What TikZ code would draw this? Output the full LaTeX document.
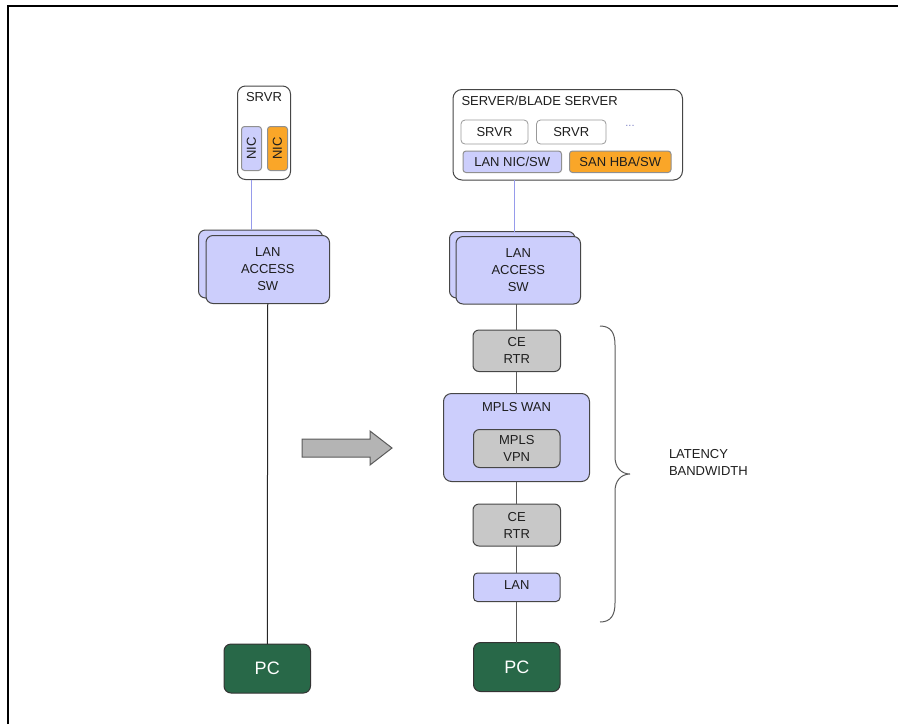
\documentclass[tikz,border=0pt]{standalone}
\usepackage{fontspec}
\setmainfont{Liberation Sans}
\definecolor{blueF}{RGB}{204,206,252}
\definecolor{orangeF}{RGB}{250,166,40}
\definecolor{grayF}{RGB}{200,200,200}
\definecolor{pcF}{RGB}{40,104,72}
\definecolor{bordC}{RGB}{70,70,70}
\definecolor{lineC}{RGB}{90,90,90}
\definecolor{blueL}{RGB}{150,155,235}
\definecolor{txtC}{RGB}{30,30,30}
\tikzset{
  basebox/.style={draw=bordC, line width=1pt, rounded corners=6pt, inner sep=0pt, outer sep=0pt,
    align=center, text=txtC, font=\fontsize{13}{17}\selectfont},
  bluebox/.style={basebox, fill=blueF},
  orangebox/.style={basebox, fill=orangeF},
  graybox/.style={basebox, fill=grayF},
  whitebox/.style={basebox, fill=white},
  pcbox/.style={basebox, fill=pcF, draw=black!80, text=white, font=\fontsize{18}{20}\selectfont},
  lbl/.style={inner sep=0pt, outer sep=0pt, text=txtC, font=\fontsize{13}{17}\selectfont},
  graylink/.style={draw=lineC, line width=1pt},
  bluelink/.style={draw=blueL, line width=1pt},
  blacklink/.style={draw=black!85, line width=1pt},
}
\begin{document}
\begin{tikzpicture}[x=1pt,y=-1pt]
\useasboundingbox (0,0) rectangle (898,724);
\draw[line width=1.6pt, black] (8,724) -- (8,6) -- (898,6);

% ---------- left column ----------
\node[whitebox, rounded corners=8pt, minimum width=53, minimum height=93.5] (srvrL) at (264,132.75) {};
\node[lbl] (srvrLt) at (264,97) {SRVR};
\node[bluebox, rounded corners=3pt, draw=bordC!60, minimum width=20, minimum height=44] (nicB) at (251.5,148.5) {};
\node[lbl, rotate=90] (nicBt) at (nicB.center) {NIC};
\node[orangebox, rounded corners=3pt, draw=bordC!60, minimum width=20, minimum height=44] (nicO) at (277.5,148.5) {};
\node[lbl, rotate=90] (nicOt) at (nicO.center) {NIC};

\node[bluebox, rounded corners=7pt, minimum width=124, minimum height=68] (lanLb) at (260.5,264) {};
\node[bluebox, rounded corners=7pt, minimum width=123.5, minimum height=68] (lanLf) at (267.75,269.5) {LAN\\ACCESS\\SW};
\node[pcbox, rounded corners=7pt, minimum width=86.5, minimum height=49] (pcL) at (267.25,668.5) {PC};

\draw[bluelink] ([xshift=-13pt]srvrL.south) -- ([xshift=-13pt]srvrL.south |- lanLb.north);
\draw[blacklink] (lanLf.south) -- (pcL.north);

% ---------- arrow ----------
\filldraw[fill=grayF!90!black, draw=lineC, line width=1pt]
  (302,439) -- (370,439) -- (370,431) -- (392,448) -- (370,465) -- (370,457) -- (302,457) -- cycle;

% ---------- right column ----------
\node[whitebox, rounded corners=9pt, minimum width=229.5, minimum height=90.5] (blade) at (567.75,134.75) {};
\node[lbl, anchor=west] (bladet) at (461.5,100.5) {SERVER/BLADE SERVER};
\node[whitebox, draw=bordC!55, line width=0.8pt, rounded corners=4pt, minimum width=67, minimum height=24] (srv1) at (494.5,132) {SRVR};
\node[whitebox, draw=bordC!55, line width=0.8pt, rounded corners=4pt, minimum width=69.5, minimum height=24] (srv2) at (571.25,132) {SRVR};
\node[lbl, text=blueL!85!black, font=\fontsize{11}{11}\selectfont] (dots) at (630,126) {...};
\node[bluebox, draw=bordC!60, rounded corners=3pt, minimum width=98.5, minimum height=21.5] (lannic) at (512.25,161.75) {LAN NIC/SW};
\node[orangebox, draw=bordC!60, rounded corners=3pt, minimum width=101.5, minimum height=21.5] (sanhba) at (620.25,161.75) {SAN HBA/SW};

\node[bluebox, rounded corners=7pt, minimum width=125.5, minimum height=66.5] (lanRb) at (512.25,264.75) {};
\node[bluebox, rounded corners=7pt, minimum width=124.5, minimum height=67.5] (lanRf) at (518.25,270.25) {LAN\\ACCESS\\SW};

\node[graybox, minimum width=87.5, minimum height=41.5] (ce1) at (516.75,350.75) {CE\\RTR};
\node[bluebox, rounded corners=8pt, minimum width=146, minimum height=88] (wan) at (516.5,437.5) {};
\node[lbl] (want) at (516.5,407.5) {MPLS WAN};
\node[graybox, minimum width=86.5, minimum height=38] (vpn) at (516.75,448.5) {MPLS\\VPN};
\node[graybox, minimum width=87.5, minimum height=42] (ce2) at (516.75,525) {CE\\RTR};
\node[bluebox, rounded corners=4pt, minimum width=86.5, minimum height=28.5] (lan) at (516.75,587.25) {\raisebox{4pt}{LAN}};
\node[pcbox, rounded corners=7pt, minimum width=86.5, minimum height=49] (pcR) at (516.75,667) {PC};

\draw[bluelink] ([xshift=-53.75pt]blade.south) -- ([xshift=-53.75pt]blade.south |- lanRb.north);
\draw[graylink] (lanRf.south -| ce1.north) -- (ce1.north);
\draw[graylink] (ce1.south) -- (ce1.south |- wan.north);
\draw[graylink] (wan.south -| ce2.north) -- (ce2.north);
\draw[graylink] (ce2.south) -- (lan.north);
\draw[graylink] (lan.south) -- (pcR.north);

% ---------- brace ----------
\draw[draw=lineC, line width=1pt]
  (600,326) .. controls (611,326) and (615,333) .. (615,345) -- (615,457)
  .. controls (615,467) and (621,474) .. (630,474)
  .. controls (621,474) and (615,481) .. (615,491) -- (615,603)
  .. controls (615,615) and (611,622) .. (600,622);
\node[lbl, anchor=west, align=left] (lat) at (669,462.5) {LATENCY\\BANDWIDTH};
\end{tikzpicture}
\end{document}
